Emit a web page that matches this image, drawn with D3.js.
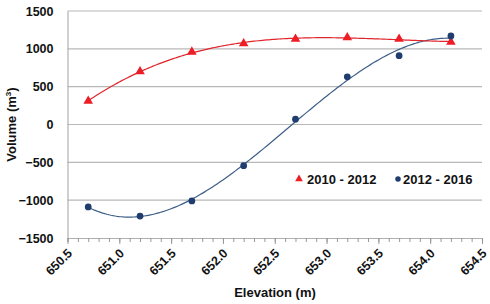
<!doctype html>
<html lang="en">
<head>
    <meta charset="utf-8">
    <title>Volume vs Elevation</title>
    <script src="https://d3js.org/d3.v7.min.js"></script>
    <style>
        body { margin: 0; background: #fff; }
        text { font-family: "Liberation Sans", Arial, sans-serif; font-weight: bold; fill: #111; }
    </style>
</head>
<body>
<script>
    // data
    var elevation = [650.7, 651.2, 651.7, 652.2, 652.7, 653.2, 653.7, 654.2];
    var vol1012   = [310, 700, 960, 1070, 1130, 1150, 1130, 1090];
    var vol1216   = [-1090, -1210, -1010, -545, 70, 630, 910, 1170];
    var seriesNames = ["2010 - 2012", "2012 - 2016"];
    var xTicks = [650.5, 651.0, 651.5, 652.0, 652.5, 653.0, 653.5, 654.0, 654.5];
    var yTicks = [-1500, -1000, -500, 0, 500, 1000, 1500];

    const width = 490, height = 304;
    const margin = {left: 67.5, right: 8, top: 11, bottom: 66};

    const svg = d3.select("body").append("svg")
        .attr("width", width).attr("height", height);

    const x = d3.scaleLinear().domain([650.5, 654.5]).range([margin.left, width - margin.right]);
    const y = d3.scaleLinear().domain([-1500, 1500]).range([height - margin.bottom, margin.top]);

    // gridlines
    svg.append("g").selectAll("line")
        .data(yTicks.slice(1))
        .enter().append("line")
        .attr("x1", x(650.5)).attr("x2", x(654.5))
        .attr("y1", d => y(d)).attr("y2", d => y(d))
        .attr("stroke", "#b8b8b8").attr("stroke-width", 1.2);

    // y axis
    const yAxis = svg.append("g")
        .attr("transform", "translate(" + x(650.5) + ",0)")
        .call(d3.axisLeft(y).tickValues(yTicks).tickSize(0).tickPadding(14).tickFormat(d3.format("d")));
    yAxis.select(".domain").attr("stroke", "#b0b0b0").attr("stroke-width", 1.2);
    yAxis.selectAll("text").style("font-size", "12.5px").attr("fill", "#111");

    // x axis, minor then major ticks
    const minor = d3.range(6505, 6546, 1).map(d => d / 10);
    svg.append("g")
        .attr("transform", "translate(0," + y(-1500) + ")")
        .call(d3.axisBottom(x).tickValues(minor).tickSize(4).tickFormat(""))
        .call(g => g.selectAll("line").attr("stroke", "#999"))
        .call(g => g.select(".domain").attr("stroke", "#b0b0b0").attr("stroke-width", 1.2));
    const xAxis = svg.append("g")
        .attr("transform", "translate(0," + y(-1500) + ")")
        .call(d3.axisBottom(x).tickValues(xTicks).tickSize(6).tickFormat(d3.format(".1f")));
    xAxis.select(".domain").remove();
    xAxis.selectAll("line").attr("stroke", "#999");
    xAxis.selectAll("text")
        .style("font-size", "12.5px")
        .attr("fill", "#111")
        .attr("text-anchor", "end")
        .attr("x", 0).attr("y", 0).attr("dy", 0)
        .attr("transform", "translate(5,16) rotate(-45)");

    // axis titles
    svg.append("text")
        .attr("x", 275)
        .attr("y", 297)
        .attr("text-anchor", "middle")
        .style("font-size", "13px")
        .text("Elevation (m)");
    const yt = svg.append("text")
        .attr("transform", "translate(16," + y(0) + ") rotate(-90)")
        .attr("text-anchor", "middle")
        .style("font-size", "13px");
    yt.append("tspan").text("Volume (m");
    yt.append("tspan").text("3").style("font-size", "8px").attr("dy", "-5");
    yt.append("tspan").text(")").attr("dy", "5");

    // cubic least-squares trendline
    function polyFit(xs, ys, deg) {
        const n = deg + 1;
        const A = [];
        for (let i = 0; i < n; i++) {
            A.push([]);
            for (let j = 0; j < n; j++) A[i].push(d3.sum(xs, t => Math.pow(t, i + j)));
            A[i].push(d3.sum(xs, (t, k) => ys[k] * Math.pow(t, i)));
        }
        for (let i = 0; i < n; i++) {
            let p = i;
            for (let r = i + 1; r < n; r++) if (Math.abs(A[r][i]) > Math.abs(A[p][i])) p = r;
            [A[i], A[p]] = [A[p], A[i]];
            for (let r = 0; r < n; r++) {
                if (r === i) continue;
                const f = A[r][i] / A[i][i];
                for (let c = i; c <= n; c++) A[r][c] -= f * A[i][c];
            }
        }
        return A.map((row, i) => row[n] / row[i]);
    }
    function trend(ys, deg) {
        const x0 = 652.45;
        const xs = elevation.map(d => d - x0);
        const c = polyFit(xs, ys, deg);
        return d3.range(650.7, 654.2001, 0.02).map(t => {
            const u = t - x0;
            return [t, c.reduce((s, ci, i) => s + ci * Math.pow(u, i), 0)];
        });
    }

    const line = d3.line().x(d => x(d[0])).y(d => y(d[1]));

    svg.append("path").datum(trend(vol1216, 3))
        .attr("d", line).attr("fill", "none")
        .attr("stroke", "#3d5f86").attr("stroke-width", 1.2);
    svg.append("path").datum(trend(vol1012, 3))
        .attr("d", line).attr("fill", "none")
        .attr("stroke", "#e0252b").attr("stroke-width", 1.2);

    const tri = d3.symbol().type(d3.symbolTriangle).size(40);
    const dot = d3.symbol().type(d3.symbolCircle).size(36);

    svg.append("g").selectAll("path")
        .data(elevation)
        .enter().append("path")
        .attr("d", tri)
        .attr("fill", "#ee1c25")
        .attr("transform", (d, i) => "translate(" + x(d) + "," + y(vol1012[i]) + ")");

    svg.append("g").selectAll("path")
        .data(elevation)
        .enter().append("path")
        .attr("d", dot)
        .attr("fill", "#1f3d6e")
        .attr("transform", (d, i) => "translate(" + x(d) + "," + y(vol1216[i]) + ")");

    // legend
    const legend = svg.append("g").attr("transform", "translate(299,179)");
    legend.append("path").attr("d", d3.symbol().type(d3.symbolTriangle).size(26))
        .attr("fill", "#ee1c25");
    legend.append("text").attr("x", 8).attr("y", 4.5).style("font-size", "13px").text(seriesNames[0]);
    legend.append("path").attr("d", d3.symbol().type(d3.symbolCircle).size(24))
        .attr("fill", "#1f3d6e").attr("transform", "translate(99,0)");
    legend.append("text").attr("x", 104).attr("y", 4.5).style("font-size", "13px").text(seriesNames[1]);
</script>
</body>
</html>
